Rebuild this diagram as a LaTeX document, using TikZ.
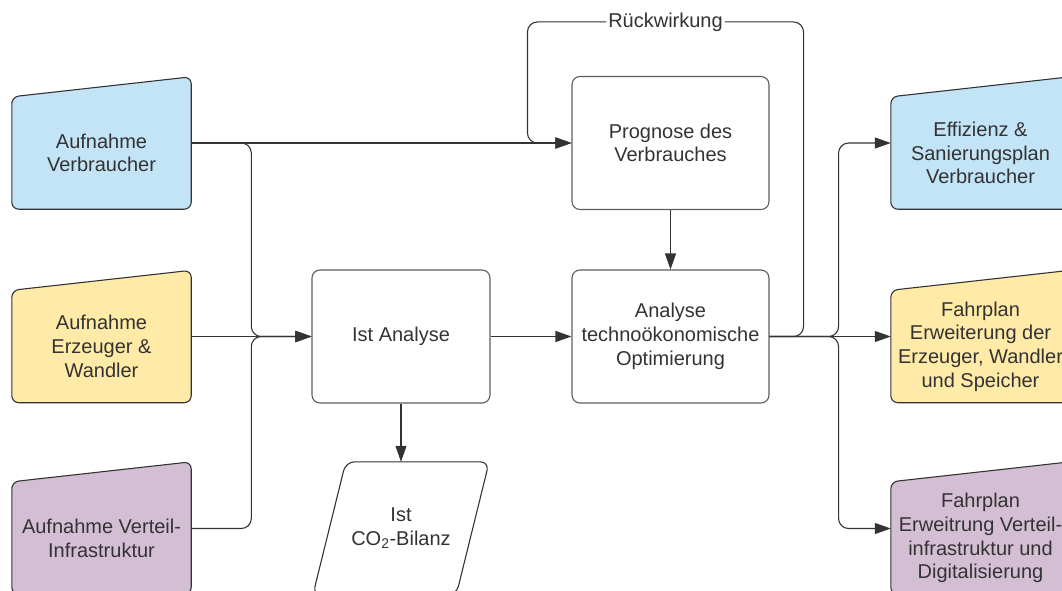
\documentclass[tikz,border=0pt]{standalone}
\usepackage{fontspec}
\setmainfont{Liberation Sans}
\usetikzlibrary{arrows.meta, positioning, backgrounds, calc}

\definecolor{lineGray}{HTML}{333333}
\definecolor{edgeGray}{HTML}{5E5E5E}
\definecolor{verbBlue}{HTML}{C3E3F6}
\definecolor{erzYellow}{HTML}{FFEAA7}
\definecolor{vertPurple}{HTML}{D4BED4}

\tikzset{
  procbox/.style = {rectangle, draw=edgeGray, line width=1.1pt, rounded corners=8pt,
                    minimum width=197pt, minimum height=133pt, align=center, text=lineGray},
  databox/.style = {rectangle, minimum width=176pt, minimum height=133pt,
                    align=center, text=lineGray},
  manin/.style   = {rectangle, minimum width=179pt, minimum height=112pt,
                    align=center, text=lineGray},
  outline/.style = {draw=lineGray, line width=1.1pt, rounded corners=7pt},
  wire/.style    = {draw=lineGray, line width=1.1pt, rounded corners=10pt},
  flow/.style    = {wire, -{Triangle[length=16pt, width=11pt]}},
}

\begin{document}
\begin{tikzpicture} [x=1pt, y=-1pt, on grid, font=\fontsize{20}{23.7}\selectfont]
    \useasboundingbox (0,0) rectangle (1062,591);

    % middle part
    \node (ist) [procbox, minimum width=178pt] at (401,336.5) {Ist Analyse};
    \node (ana) [procbox, right = 269.5pt of ist] {Analyse\\technoökonomische\\Optimierung};
    \node (prog) [procbox, above = 193.5pt of ana] {Prognose des\\Verbrauches};
    \node (co2) [databox, below = 192pt of ist] {Ist\\CO\textsubscript{2}-Bilanz};

    % inputs left
    \node (aufe) [manin, below left = 10pt and 299.5pt of ist] {Aufnahme\\Erzeuger \&\\Wandler};
    \node (aufv) [manin, above = 193.5pt of aufe] {Aufnahme\\Verbraucher};
    \node (aufi) [manin, below = 191.5pt of aufe] {Aufnahme Verteil-\\Infrastruktur};

    % results right
    \node (fpe) [manin, below right = 10pt and 310pt of ana] {Fahrplan\\Erweiterung der\\Erzeuger, Wandler\\und Speicher};
    \node (eff) [manin, above = 193.5pt of fpe] {Effizienz \&\\Sanierungsplan\\Verbraucher};
    \node (fpi) [manin, below = 191.5pt of fpe] {Fahrplan\\Erweitrung Verteil-\\infrastruktur und\\Digitalisierung};

    \begin{scope}[on background layer]
    \foreach \n/\c in {aufv/verbBlue, aufe/erzYellow, aufi/vertPurple,
                       eff/verbBlue, fpe/erzYellow, fpi/vertPurple}
        \draw [outline, fill=\c]
            (\n.south west) -- (\n.north west) -- ([yshift=20pt]\n.north east)
            -- (\n.south east) -- cycle;
    \draw [outline, rounded corners=9pt] (co2.south west) -- ([xshift=33pt]co2.north west)
        -- (co2.north east) -- ([xshift=-33pt]co2.south east) -- cycle;
    \end{scope}

    \coordinate (jl) at ($(aufe.east |- ist)!0.5!(ist.west)$);
    \coordinate (jr) at ([xshift=69pt]ana.east);

    \path [flow] (aufv.east |- prog) -- (prog.west);
    \path [flow] (aufv.east |- prog) -| (jl) -- (ist.west);
    \path [flow] (aufe.east |- ist) -- (ist.west);
    \path [flow] (aufi.east |- co2) -| (jl) -- (ist.west);

    \path [flow] (ist) -- (ana);
    \path [flow] (prog) -- (ana);
    \path [flow] (ist) -- (co2);

    \path [flow] (ana.east) -| ([xshift=34pt, yshift=54pt]prog.north east)
        -| node [pos=0.25, fill=white, inner sep=2pt, text=lineGray] {Rückwirkung}
        ([xshift=-44pt]prog.west) -- (prog.west);

    \path [flow] (ana.east) -- (jr) |- (eff.west |- prog);
    \path [flow] (ana.east) -- (jr) |- (fpi.west |- co2);
    \path [flow] (ana.east) -- (fpe.west |- ana);
\end{tikzpicture}
\end{document}
